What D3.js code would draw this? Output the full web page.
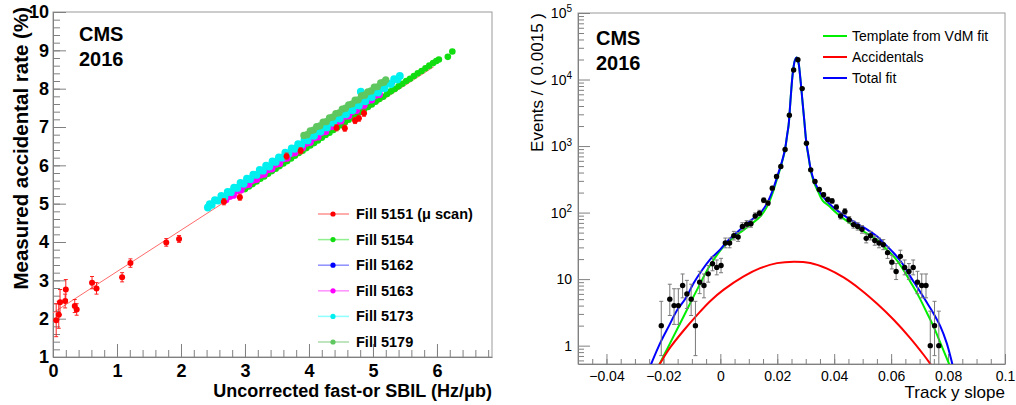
<!DOCTYPE html>
<html><head><meta charset="utf-8">
<script src="https://cdn.jsdelivr.net/npm/d3@7"></script>
<style>body{margin:0;background:#fff}svg{display:block}</style>
</head><body><svg id="c" width="1016" height="405"></svg>
<script>
// ---------------- LEFT PANEL DATA ----------------
const leftXTicks = [0,1,2,3,4,5,6];
const leftYTicks = [1,2,3,4,5,6,7,8,9,10];
const leftLegendLabels = ["Fill 5151 (\u03bc scan)","Fill 5154","Fill 5162","Fill 5163","Fill 5173","Fill 5179"];
const leftColors = ["#ff0000","#11dd11","#0000ff","#ff00ff","#00f0f0","#5fc75f"];
const leftLegendLineColors = ["#ff9090","#90f090","#8f8fff","#ff90ff","#90ffff","#a8dca8"];

const fill5151X = [0.05,0.09,0.11,0.19,0.20,0.34,0.37,0.61,0.68,1.08,1.21,1.77,1.97,2.67,2.92,3.65,3.87,4.43,4.56,4.72,4.78,4.86];
const fill5151Y = [1.96,2.10,2.43,2.46,2.76,2.33,2.24,2.94,2.79,3.08,3.45,3.99,4.08,5.05,5.17,6.24,6.38,6.98,6.97,7.17,7.23,7.36];
const fill5151Err = [0.43,0.35,0.33,0.18,0.26,0.17,0.15,0.16,0.15,0.12,0.11,0.10,0.09,0.08,0.08,0.08,0.08,0.08,0.08,0.08,0.08,0.08];
const fitX = [0, 5.95];
const fitY = [2.15, 8.57];

const fill5154 = [[3.00,5.38],[3.06,5.45],[3.12,5.51],[3.18,5.58],[3.24,5.65],[3.30,5.71],[3.36,5.78],[3.42,5.85],[3.48,5.91],[3.54,5.98],[3.60,6.05],[3.66,6.11],[3.72,6.18],[3.78,6.25],[3.84,6.32],[3.90,6.38],[3.96,6.45],[4.02,6.52],[4.08,6.58],[4.14,6.65],[4.20,6.72],[4.26,6.79],[4.32,6.85],[4.38,6.92],[4.44,6.99],[4.50,7.05],[4.56,7.12],[4.62,7.19],[4.68,7.26],[4.74,7.32],[4.80,7.39],[4.86,7.46],[4.92,7.52],[4.98,7.59],[5.04,7.66],[5.10,7.73],[5.16,7.79],[5.22,7.86],[5.28,7.93],[5.34,7.99],[5.40,8.06],[5.46,8.13],[5.52,8.20],[5.58,8.26],[5.64,8.33],[5.70,8.40],[5.76,8.46],[5.82,8.53],[5.88,8.60],[5.94,8.67],[5.99,8.72],[6.03,8.76],[6.17,8.83],[6.24,8.97]];
const fill5162 = [[4.98,7.86],[5.02,7.88],[5.06,7.91],[5.24,8.12],[5.28,8.14],[5.31,8.16]];
const fill5163 = [[2.70,5.10],[2.76,5.19],[2.82,5.22],[2.88,5.34],[2.94,5.36],[3.00,5.48],[3.06,5.50],[3.12,5.61],[3.18,5.63],[3.24,5.75],[3.30,5.77],[3.36,5.89],[3.42,5.91],[3.48,6.03],[3.54,6.05],[3.60,6.17],[3.66,6.19],[3.72,6.31],[3.78,6.33],[3.84,6.45],[3.90,6.46],[3.96,6.58],[4.02,6.60],[4.08,6.72],[4.14,6.74],[4.20,6.86],[4.26,6.88],[4.32,7.00],[4.38,7.02],[4.44,7.14],[4.50,7.16],[4.56,7.28],[4.62,7.29],[4.68,7.41],[4.74,7.43],[4.80,7.55],[4.86,7.57],[4.92,7.69],[4.98,7.71],[5.04,7.83],[5.10,7.85]];
const fill5173 = [[2.42,4.90],[2.45,4.99],[2.48,4.97],[2.53,5.09],[2.58,5.08],[2.63,5.20],[2.68,5.18],[2.73,5.31],[2.78,5.30],[2.83,5.42],[2.88,5.41],[2.93,5.54],[2.98,5.52],[3.03,5.65],[3.08,5.64],[3.13,5.76],[3.18,5.75],[3.23,5.88],[3.28,5.86],[3.33,5.99],[3.38,5.97],[3.43,6.10],[3.48,6.09],[3.53,6.21],[3.58,6.20],[3.63,6.33],[3.68,6.31],[3.73,6.44],[3.78,6.43],[3.83,6.55],[3.88,6.54],[3.93,6.67],[3.98,6.65],[4.03,6.78],[4.08,6.77],[4.13,6.89],[4.18,6.88],[4.23,7.01],[4.28,6.99],[4.33,7.12],[4.38,7.11],[4.43,7.23],[4.48,7.22],[4.53,7.34],[4.58,7.33],[4.63,7.46],[4.68,7.44],[4.73,7.57],[4.78,7.56],[4.83,7.68],[4.81,7.92],[4.88,7.67],[4.93,7.80],[4.98,7.78],[5.03,7.91],[5.08,7.90],[5.13,8.02],[5.18,8.01],[5.23,8.14],[5.28,8.12],[5.33,8.25],[5.38,8.24],[5.42,8.33]];
const fill5179 = [[3.92,6.78],[3.97,6.80],[4.02,6.90],[4.07,6.92],[4.12,7.01],[4.17,7.03],[4.22,7.13],[4.27,7.14],[4.32,7.24],[4.37,7.26],[4.42,7.35],[4.47,7.37],[4.52,7.47],[4.57,7.49],[4.62,7.58],[4.67,7.60],[4.72,7.70],[4.77,7.71],[4.82,7.81],[4.87,7.83],[4.92,7.92],[4.97,7.94],[5.02,8.04],[5.07,8.05],[5.12,8.15],[5.17,8.17],[5.20,8.23]];

// ---------------- RIGHT PANEL DATA ----------------
const rightXTicks = [-0.04,-0.02,0,0.02,0.04,0.06,0.08,0.1];
const rightXTickLabels = ["\u22120.04","\u22120.02","0","0.02","0.04","0.06","0.08","0.1"];
const rightYTicks = [1,10,100,1000,10000,100000];
const rightLegendLabels = ["Template from VdM fit","Accidentals","Total fit"];
const rightColors = ["#00ee00","#ff0000","#0000ff"];

const binCenters = [-0.02075,-0.01775,-0.01625,-0.01475,-0.01325,-0.01175,-0.01025,-0.00875,-0.00725,-0.00575,-0.00425,-0.00275,-0.00125,0.00025,0.00175,0.00325,0.00475,0.00625,0.00775,0.00925,0.01075,0.01225,0.01375,0.01525,0.01675,0.01825,0.01975,0.02125,0.02275,0.02425,0.02575,0.02725,0.02875,0.03025,0.03175,0.03325,0.03475,0.03625,0.03775,0.03925,0.04075,0.04225,0.04375,0.04525,0.04675,0.04825,0.04975,0.05125,0.05275,0.05425,0.05575,0.05725,0.05875,0.06025,0.06175,0.06325,0.06475,0.06625,0.06775,0.06925,0.07075,0.07225,0.07375,0.07525,0.07675];
const counts = [2,5,4,4,8,6,5,2,9,8,12,17,15,16,35,35,45,43,62,67,68,89,98,153,139,233,348,492,890,2900,13900,19800,7300,1105,439,293,222,185,158,150,121,89,104,78,66,62,56,41,45,38,35,33,25,18,13,22,15,13,15,9,8,8,1,2,1];

const templateX = [-0.0225,-0.0213,-0.0176,-0.0129,-0.0082,-0.0035,0.0012,0.0045,0.0082,0.011,0.014,0.0165,0.0185,0.020,0.0213,0.0227,0.0235,0.024,0.0245,0.0248,0.0255,0.0262,0.0268,0.0274,0.0281,0.0288,0.0295,0.0302,0.031,0.0317,0.0327,0.0345,0.036,0.038,0.041,0.045,0.0492,0.052,0.055,0.058,0.0609,0.064,0.0667,0.0697,0.0726,0.075,0.0773,0.0802,0.0815];
const templateY = [0.4,0.53,1.1,2.75,6.9,16.4,31,42,55,68,87,125,205,330,500,870,1480,2080,3980,5980,12980,19480,21480,18480,10480,4980,2380,1130,680,440,300,200,150,128,97,72,56,47,39,29,22,14.5,9.2,5.5,3.1,1.9,1.1,0.55,0.4];
const accX = [-0.0225,-0.0211,-0.0176,-0.0129,-0.0082,-0.0035,0.0012,0.0082,0.014,0.0199,0.0258,0.0316,0.0375,0.0433,0.0492,0.055,0.0609,0.0667,0.0714,0.0738,0.0755];
const accY = [0.44,0.55,0.94,1.69,2.88,4.7,6.95,11,14.6,17.4,18.3,17.5,14.4,10.6,7.0,4.3,2.45,1.3,0.73,0.53,0.42];
const totalX = [-0.025,-0.0211,-0.018,-0.0152,-0.012,-0.0094,-0.0065,-0.0035,0.0,0.0024,0.0055,0.0082,0.011,0.014,0.0165,0.0185,0.020,0.0213,0.0227,0.0235,0.024,0.0245,0.0248,0.0255,0.0262,0.0268,0.0274,0.0281,0.0288,0.0295,0.0302,0.031,0.0317,0.0327,0.0345,0.036,0.038,0.041,0.045,0.0492,0.052,0.055,0.058,0.0609,0.064,0.0667,0.0697,0.0726,0.075,0.0773,0.0795,0.0814,0.0825];
const totalY = [0.45,1.1,2.0,3.4,5.3,8.7,13.5,20,28,37,49,62,78,98,140,222,350,520,890,1500,2100,4000,6000,13000,19500,21500,18500,10500,5000,2400,1150,700,460,320,220,175,140,108,82,64,54,44,33,24.7,17,11,7,4.4,3.0,1.95,1.1,0.55,0.35];

// ---------------- DRAWING ----------------
const FONT = "'Liberation Sans', Arial, Helvetica, sans-serif";
const AX = "#808080";
const svg = d3.select("#c");

function styleAxis(g, size, weight) {
  g.attr("font-family", FONT).attr("font-size", size).attr("font-weight", weight);
  g.selectAll("line").attr("stroke", AX);
  g.select(".domain").attr("stroke", AX);
  g.selectAll("text").attr("fill", "#000");
}

// ===== LEFT =====
const xL = d3.scaleLinear().domain([0, 6.86]).range([53, 492]);
const yL = d3.scaleLinear().domain([1, 10]).range([357, 12]);
const gL = svg.append("g");

gL.append("rect").attr("x", xL.range()[0]).attr("y", yL.range()[1])
  .attr("width", xL.range()[1]-xL.range()[0]).attr("height", yL.range()[0]-yL.range()[1])
  .attr("fill","none").attr("stroke","#9a9a9a");

gL.append("g").attr("transform",`translate(0,${yL.range()[0]})`)
  .call(d3.axisBottom(xL).tickValues(d3.range(0, 6.85, 0.2)).tickSize(-7).tickSizeOuter(0).tickFormat(""))
  .call(g=>{g.select(".domain").remove(); g.selectAll("line").attr("stroke",AX);});
gL.append("g").attr("transform",`translate(${xL.range()[0]},0)`)
  .call(d3.axisLeft(yL).tickValues(d3.range(1, 10.01, 0.2)).tickSize(-7).tickSizeOuter(0).tickFormat(""))
  .call(g=>{g.select(".domain").remove(); g.selectAll("line").attr("stroke",AX);});
gL.append("g").attr("transform",`translate(0,${yL.range()[0]})`)
  .call(d3.axisBottom(xL).tickValues(leftXTicks).tickSize(-13).tickSizeOuter(0).tickPadding(7).tickFormat(d3.format("d")))
  .call(g=>styleAxis(g, 18, "bold"));
gL.append("g").attr("transform",`translate(${xL.range()[0]},0)`)
  .call(d3.axisLeft(yL).tickValues(leftYTicks).tickSize(-13).tickSizeOuter(0).tickPadding(4).tickFormat(d3.format("d")))
  .call(g=>styleAxis(g, 18, "bold"));

gL.append("text").attr("transform","translate(28,7) rotate(-90)").attr("text-anchor","end")
  .attr("font-family",FONT).attr("font-weight","bold").attr("font-size",20.5).text("Measured accidental rate (%)");
gL.append("text").attr("x", xL.range()[1]).attr("y",397).attr("text-anchor","end")
  .attr("font-family",FONT).attr("font-weight","bold").attr("font-size",18).text("Uncorrected fast-or SBIL (Hz/\u03bcb)");
gL.append("text").attr("x",79).attr("y",41).attr("font-family",FONT).attr("font-weight","bold").attr("font-size",20).text("CMS");
gL.append("text").attr("x",79).attr("y",66).attr("font-family",FONT).attr("font-weight","bold").attr("font-size",20).text("2016");

gL.append("path").datum(d3.zip(fitX, fitY))
  .attr("d", d3.line().x(d=>xL(d[0])).y(d=>yL(d[1])))
  .attr("stroke","#ff6a6a").attr("stroke-width",1).attr("fill","none");

function dots(data, color, r) {
  gL.append("g").selectAll("circle").data(data).join("circle")
    .attr("cx", d=>xL(d[0])).attr("cy", d=>yL(d[1])).attr("r", r).attr("fill", color);
}
dots(fill5154, leftColors[1], 3.3);
gL.append("g").selectAll("line").data(fill5162).join("line")
  .attr("x1",d=>xL(d[0])).attr("x2",d=>xL(d[0])).attr("y1",d=>yL(d[1]-0.04)).attr("y2",d=>yL(d[1]+0.04))
  .attr("stroke",leftColors[2]);
dots(fill5162, leftColors[2], 2.2);
dots(fill5163, leftColors[3], 3.6);
dots(fill5173, leftColors[4], 3.9);
dots(fill5179, leftColors[5], 3.6);
const red = d3.zip(fill5151X, fill5151Y, fill5151Err);
const rg = gL.append("g");
rg.selectAll("line.v").data(red).join("line").attr("class","v")
  .attr("x1",d=>xL(d[0])).attr("x2",d=>xL(d[0])).attr("y1",d=>yL(d[1]-d[2])).attr("y2",d=>yL(d[1]+d[2]))
  .attr("stroke","#ff2020").attr("stroke-width",1);
[-1,1].forEach(s=>{
  rg.selectAll("line.c"+(s+1)).data(red).join("line").attr("class","c"+(s+1))
    .attr("x1",d=>xL(d[0])-2).attr("x2",d=>xL(d[0])+2).attr("y1",d=>yL(d[1]+s*d[2])).attr("y2",d=>yL(d[1]+s*d[2]))
    .attr("stroke","#ff2020").attr("stroke-width",1);
});
rg.selectAll("circle").data(red).join("circle")
  .attr("cx",d=>xL(d[0])).attr("cy",d=>yL(d[1])).attr("r",3).attr("fill",leftColors[0]);

const lg = gL.append("g").attr("font-family",FONT).attr("font-weight","bold").attr("font-size",14.5);
leftLegendLabels.forEach((lab,i)=>{
  const y = 214 + i*25.6;
  lg.append("line").attr("x1",318).attr("x2",349).attr("y1",y).attr("y2",y).attr("stroke",leftLegendLineColors[i]).attr("stroke-width",1.5);
  lg.append("circle").attr("cx",333).attr("cy",y).attr("r",2.6).attr("fill",leftColors[i]);
  lg.append("text").attr("x",356).attr("y",y+5).text(lab);
});

// ===== RIGHT =====
const xR = d3.scaleLinear().domain([-0.05, 0.1]).range([578, 1005]);
const yR = d3.scaleLog().domain([0.53, 1e5]).range([364, 13]);
const gR = svg.append("g");
gR.append("rect").attr("x", xR.range()[0]).attr("y", yR.range()[1])
  .attr("width", xR.range()[1]-xR.range()[0]).attr("height", yR.range()[0]-yR.range()[1])
  .attr("fill","none").attr("stroke","#9a9a9a");

const yMinor = [];
[0.1,1,10,100,1000,10000].forEach(dec=>{ for(let k=2;k<=9;k++){ const v=dec*k; if(v>=0.53 && v<=1e5) yMinor.push(v);} });
gR.append("g").attr("transform",`translate(0,${yR.range()[0]})`)
  .call(d3.axisBottom(xR).tickValues(d3.range(-0.05, 0.1001, 0.005)).tickSize(-5).tickSizeOuter(0).tickFormat(""))
  .call(g=>{g.select(".domain").remove(); g.selectAll("line").attr("stroke",AX);});
gR.append("g").attr("transform",`translate(${xR.range()[0]},0)`)
  .call(d3.axisLeft(yR).tickValues(yMinor).tickSize(-6).tickSizeOuter(0).tickFormat(""))
  .call(g=>{g.select(".domain").remove(); g.selectAll("line").attr("stroke",AX);});
gR.append("g").attr("transform",`translate(0,${yR.range()[0]})`)
  .call(d3.axisBottom(xR).tickValues(rightXTicks).tickSize(-10).tickSizeOuter(0).tickPadding(7).tickFormat((d,i)=>rightXTickLabels[i]))
  .call(g=>styleAxis(g, 14, "normal"));
gR.append("g").attr("transform",`translate(${xR.range()[0]},0)`)
  .call(d3.axisLeft(yR).tickValues(rightYTicks).tickSize(-12).tickSizeOuter(0).tickPadding(6).tickFormat(d=>d<100?String(d):"10"))
  .call(g=>{
    styleAxis(g, 14, "normal");
    g.selectAll(".tick text").each(function(d){
      if (d >= 100) {
        d3.select(this).append("tspan").attr("dy","-0.55em").attr("font-size",10).text(String(Math.round(Math.log10(d))));
      }
    });
  });

gR.append("text").attr("transform","translate(543,13) rotate(-90)").attr("text-anchor","end")
  .attr("font-family",FONT).attr("font-size",17).text("Events / ( 0.0015 )");
gR.append("text").attr("x", xR.range()[1]).attr("y",398).attr("text-anchor","end")
  .attr("font-family",FONT).attr("font-size",17).text("Track y slope");
gR.append("text").attr("x",596).attr("y",45).attr("font-family",FONT).attr("font-weight","bold").attr("font-size",20).text("CMS");
gR.append("text").attr("x",596).attr("y",70).attr("font-family",FONT).attr("font-weight","bold").attr("font-size",20).text("2016");

svg.append("defs").append("clipPath").attr("id","clipR").append("rect")
  .attr("x", xR.range()[0]).attr("y", yR.range()[1])
  .attr("width", xR.range()[1]-xR.range()[0]).attr("height", yR.range()[0]-yR.range()[1]);
const plotR = gR.append("g").attr("clip-path","url(#clipR)");

const lineR = d3.line().x(d=>xR(d[0])).y(d=>yR(d[1])).curve(d3.curveCatmullRom.alpha(0.5));
[[templateX,templateY,rightColors[0]],[accX,accY,rightColors[1]],[totalX,totalY,rightColors[2]]].forEach(([xs,ys,c])=>{
  plotR.append("path").datum(d3.zip(xs,ys)).attr("d",lineR).attr("fill","none").attr("stroke",c).attr("stroke-width",2);
});

const poisLo = [0,0.173,0.708,1.367,2.086,2.840,3.620,4.419,5.232,6.057,6.891];
const poisHi = [1.841,3.300,4.638,5.918,7.163,8.382,9.584,10.77,11.95,13.11,14.27];
const pts = d3.zip(binCenters, counts).map(([x,n])=>{
  const lo = n<=10 ? poisLo[n] : n - Math.sqrt(n+0.25) + 0.5;
  const hi = n<=10 ? poisHi[n] : n + Math.sqrt(n+0.25) + 0.5;
  return {x, n, lo: Math.max(lo, 0.01), hi};
});
const eb = plotR.append("g").attr("stroke","#7a7a7a").attr("stroke-width",1);
eb.selectAll("line.v").data(pts).join("line").attr("class","v")
  .attr("x1",d=>xR(d.x)).attr("x2",d=>xR(d.x)).attr("y1",d=>yR(d.lo)).attr("y2",d=>yR(d.hi));
eb.selectAll("line.t").data(pts).join("line").attr("class","t")
  .attr("x1",d=>xR(d.x)-2).attr("x2",d=>xR(d.x)+2).attr("y1",d=>yR(d.hi)).attr("y2",d=>yR(d.hi));
eb.selectAll("line.b").data(pts.filter(d=>d.lo>0.53)).join("line").attr("class","b")
  .attr("x1",d=>xR(d.x)-2).attr("x2",d=>xR(d.x)+2).attr("y1",d=>yR(d.lo)).attr("y2",d=>yR(d.lo));
plotR.append("g").selectAll("circle").data(pts).join("circle")
  .attr("cx",d=>xR(d.x)).attr("cy",d=>yR(d.n)).attr("r",2.7).attr("fill","#000");

const rl = gR.append("g").attr("font-family",FONT).attr("font-size",14);
rightLegendLabels.forEach((lab,i)=>{
  const y = 36 + i*21;
  rl.append("line").attr("x1",823).attr("x2",847).attr("y1",y).attr("y2",y).attr("stroke",rightColors[i]).attr("stroke-width",2);
  rl.append("text").attr("x",852).attr("y",y+5).text(lab);
});
</script></body></html>
